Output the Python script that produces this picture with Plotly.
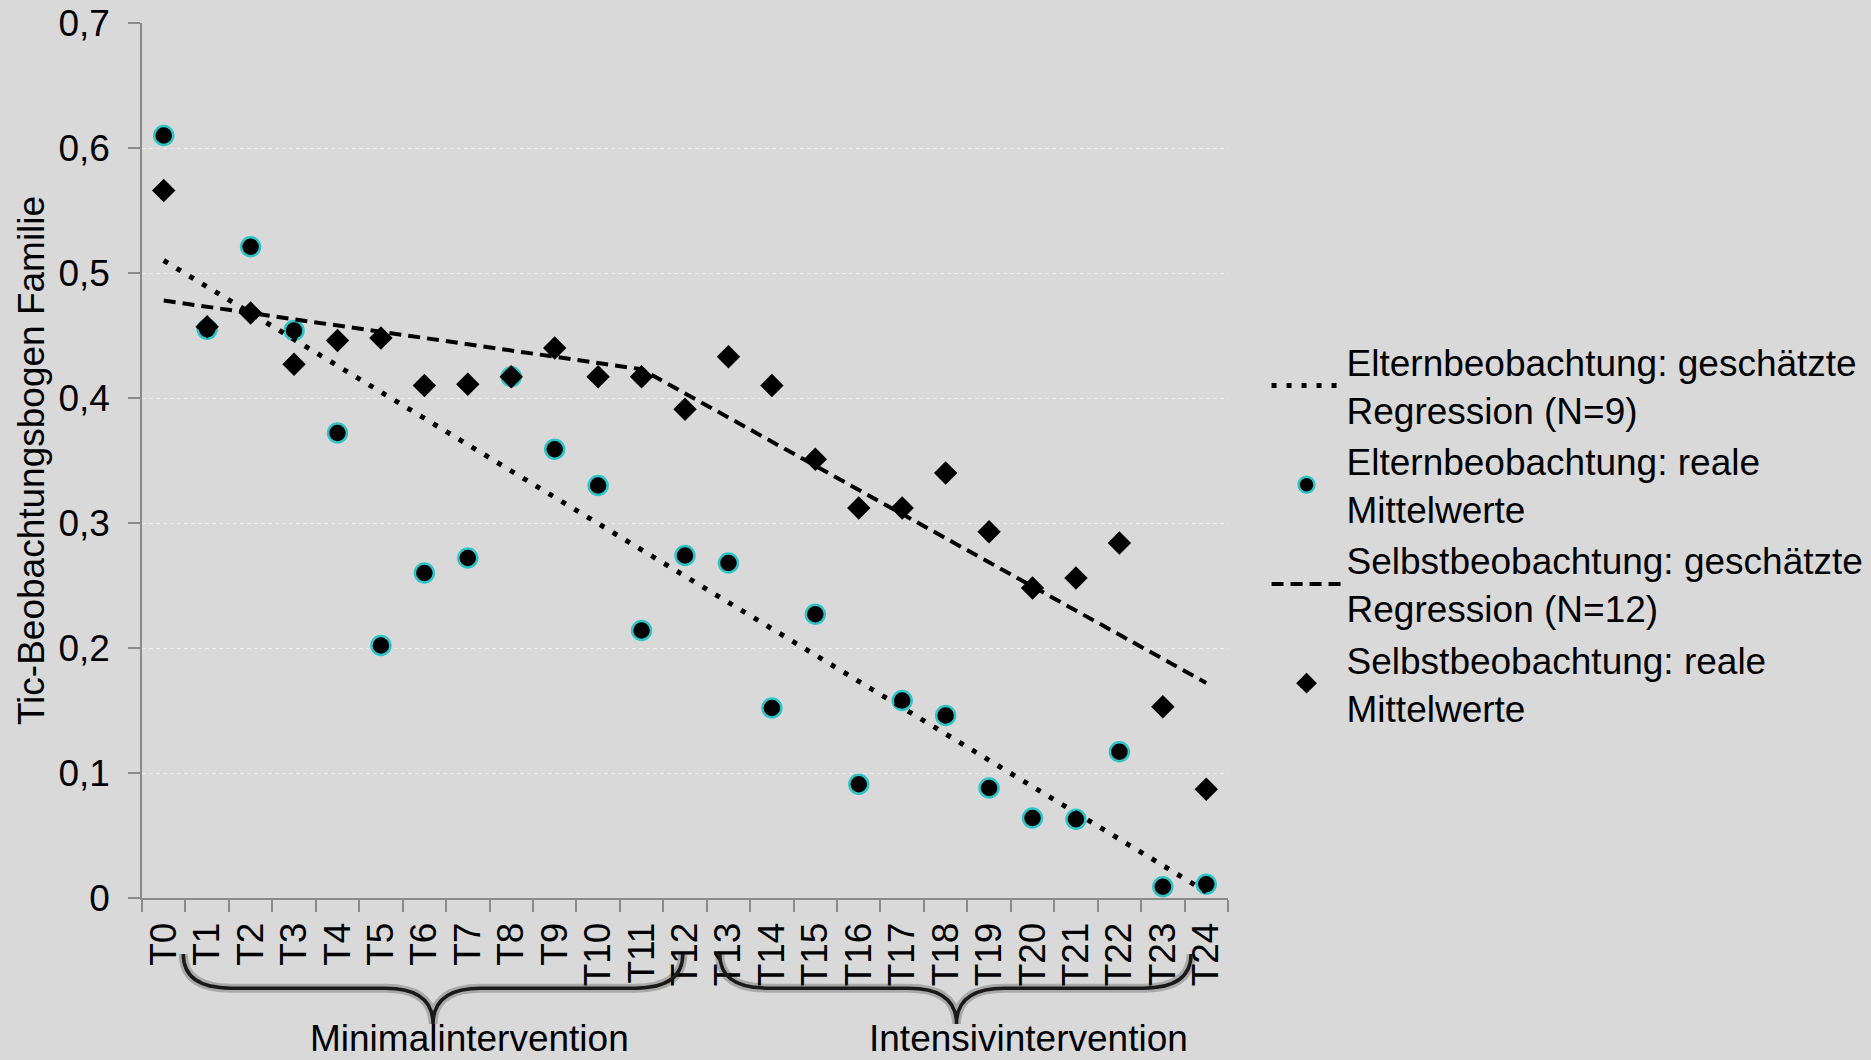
import plotly.graph_objects as go

# Measurement points
zeitpunkte = [f"T{i}" for i in range(25)]

# Parent observation: observed means
eltern_mittel = [0.610, 0.455, 0.521, 0.454, 0.372, 0.202, 0.260, 0.272, 0.417, 0.359,
                 0.330, 0.214, 0.274, 0.268, 0.152, 0.227, 0.091, 0.158, 0.146, 0.088,
                 0.064, 0.063, 0.117, 0.009, 0.011]

# Self observation: observed means
selbst_mittel = [0.566, 0.457, 0.468, 0.427, 0.446, 0.448, 0.410, 0.411, 0.417, 0.440,
                 0.417, 0.417, 0.391, 0.433, 0.410, 0.351, 0.312, 0.312, 0.340, 0.293,
                 0.248, 0.256, 0.284, 0.153, 0.087]

# Estimated regressions (knots)
eltern_reg_x = ["T0", "T24"]
eltern_reg_y = [0.510, 0.005]
selbst_reg_x = ["T0", "T11", "T24"]
selbst_reg_y = [0.478, 0.423, 0.172]

# Intervention phases: label, brace start/end/tip (category index), label position
phasen = [
    ("Minimalintervention", 0.45, 11.95, 6.2, 7.03),
    ("Intensivintervention", 12.8, 23.65, 18.25, 19.9),
]

FONT = "Liberation Sans, Arial, sans-serif"
FS = 37
BG = "#d9d9d9"
AXIS = "#8a8a8a"

fig = go.Figure()

fig.add_trace(go.Scatter(
    x=zeitpunkte, y=eltern_mittel, mode="markers",
    name="Elternbeobachtung: reale<br>Mittelwerte", legendrank=2,
    marker=dict(symbol="circle", size=19, color="black",
                line=dict(color="#2fc4c8", width=2.5)),
))
fig.add_trace(go.Scatter(
    x=zeitpunkte, y=selbst_mittel, mode="markers",
    name="Selbstbeobachtung: reale<br>Mittelwerte", legendrank=4,
    marker=dict(symbol="diamond", size=18, color="black", line=dict(width=0)),
))
fig.add_trace(go.Scatter(
    x=eltern_reg_x, y=eltern_reg_y, mode="lines",
    name="Elternbeobachtung: geschätzte<br>Regression (N=9)", legendrank=1,
    line=dict(color="black", width=5, dash="5px,10px"),
))
fig.add_trace(go.Scatter(
    x=selbst_reg_x, y=selbst_reg_y, mode="lines",
    name="Selbstbeobachtung: geschätzte<br>Regression (N=12)", legendrank=3,
    line=dict(color="black", width=4, dash="12px,7px"),
))

# Curly braces under the tick labels, x in category units, y in paper units
y_top, y_mid, y_tip = -0.064, -0.103, -0.144
r = 1.1
for label, x0, x1, xt, xl in phasen:
    path = (
        f"M {x0},{y_top} Q {x0},{y_mid} {x0 + r},{y_mid} "
        f"L {xt - r},{y_mid} Q {xt},{y_mid} {xt},{y_tip} "
        f"Q {xt},{y_mid} {xt + r},{y_mid} "
        f"L {x1 - r},{y_mid} Q {x1},{y_mid} {x1},{y_top}"
    )
    fig.add_shape(type="path", path=path, xref="x", yref="paper",
                  line=dict(color="rgba(0,0,0,0.22)", width=9), layer="above")
    fig.add_shape(type="path", path=path, xref="x", yref="paper",
                  line=dict(color="#1a1a1a", width=3.5), layer="above")
    fig.add_annotation(x=xl, y=-0.160, xref="x", yref="paper", text=label,
                       showarrow=False, xanchor="center", yanchor="middle",
                       font=dict(size=FS, color="black", family=FONT))

fig.update_layout(
    width=1871, height=1060,
    margin=dict(l=142, r=643, t=23, b=162, autoexpand=False),
    paper_bgcolor=BG, plot_bgcolor=BG,
    separators=",.",
    font=dict(family=FONT, size=FS, color="black"),
    showlegend=True,
    legend=dict(x=1.0355, y=0.648, xanchor="left", yanchor="top",
                bgcolor="rgba(0,0,0,0)", itemwidth=70,
                font=dict(size=FS, color="black", family=FONT),
                tracegroupgap=0),
    xaxis=dict(type="category", categoryorder="array", categoryarray=zeitpunkte,
               tickmode="array", tickvals=zeitpunkte, ticktext=zeitpunkte,
               range=[-0.5, 24.5], tickangle=-90, tickson="boundaries",
               ticks="outside", ticklen=12, tickcolor=AXIS, tickwidth=1.5,
               ticklabelstandoff=8,
               showline=True, linecolor=AXIS, linewidth=1.5, showgrid=False,
               tickfont=dict(size=FS, color="black"), automargin=False),
    yaxis=dict(range=[0, 0.7], dtick=0.1, tick0=0,
               ticks="outside", ticklen=12, tickcolor=AXIS, tickwidth=1.5,
               ticklabelstandoff=11,
               showline=True, linecolor=AXIS, linewidth=1.5,
               showgrid=True, gridcolor="#ececec", gridwidth=1, griddash="4px,3px",
               zeroline=False, tickfont=dict(size=FS, color="black"),
               title=dict(text="Tic-Beobachtungsbogen Familie", standoff=2,
                          font=dict(size=FS, color="black")),
               automargin=False),
)

fig.write_html("out.html")
